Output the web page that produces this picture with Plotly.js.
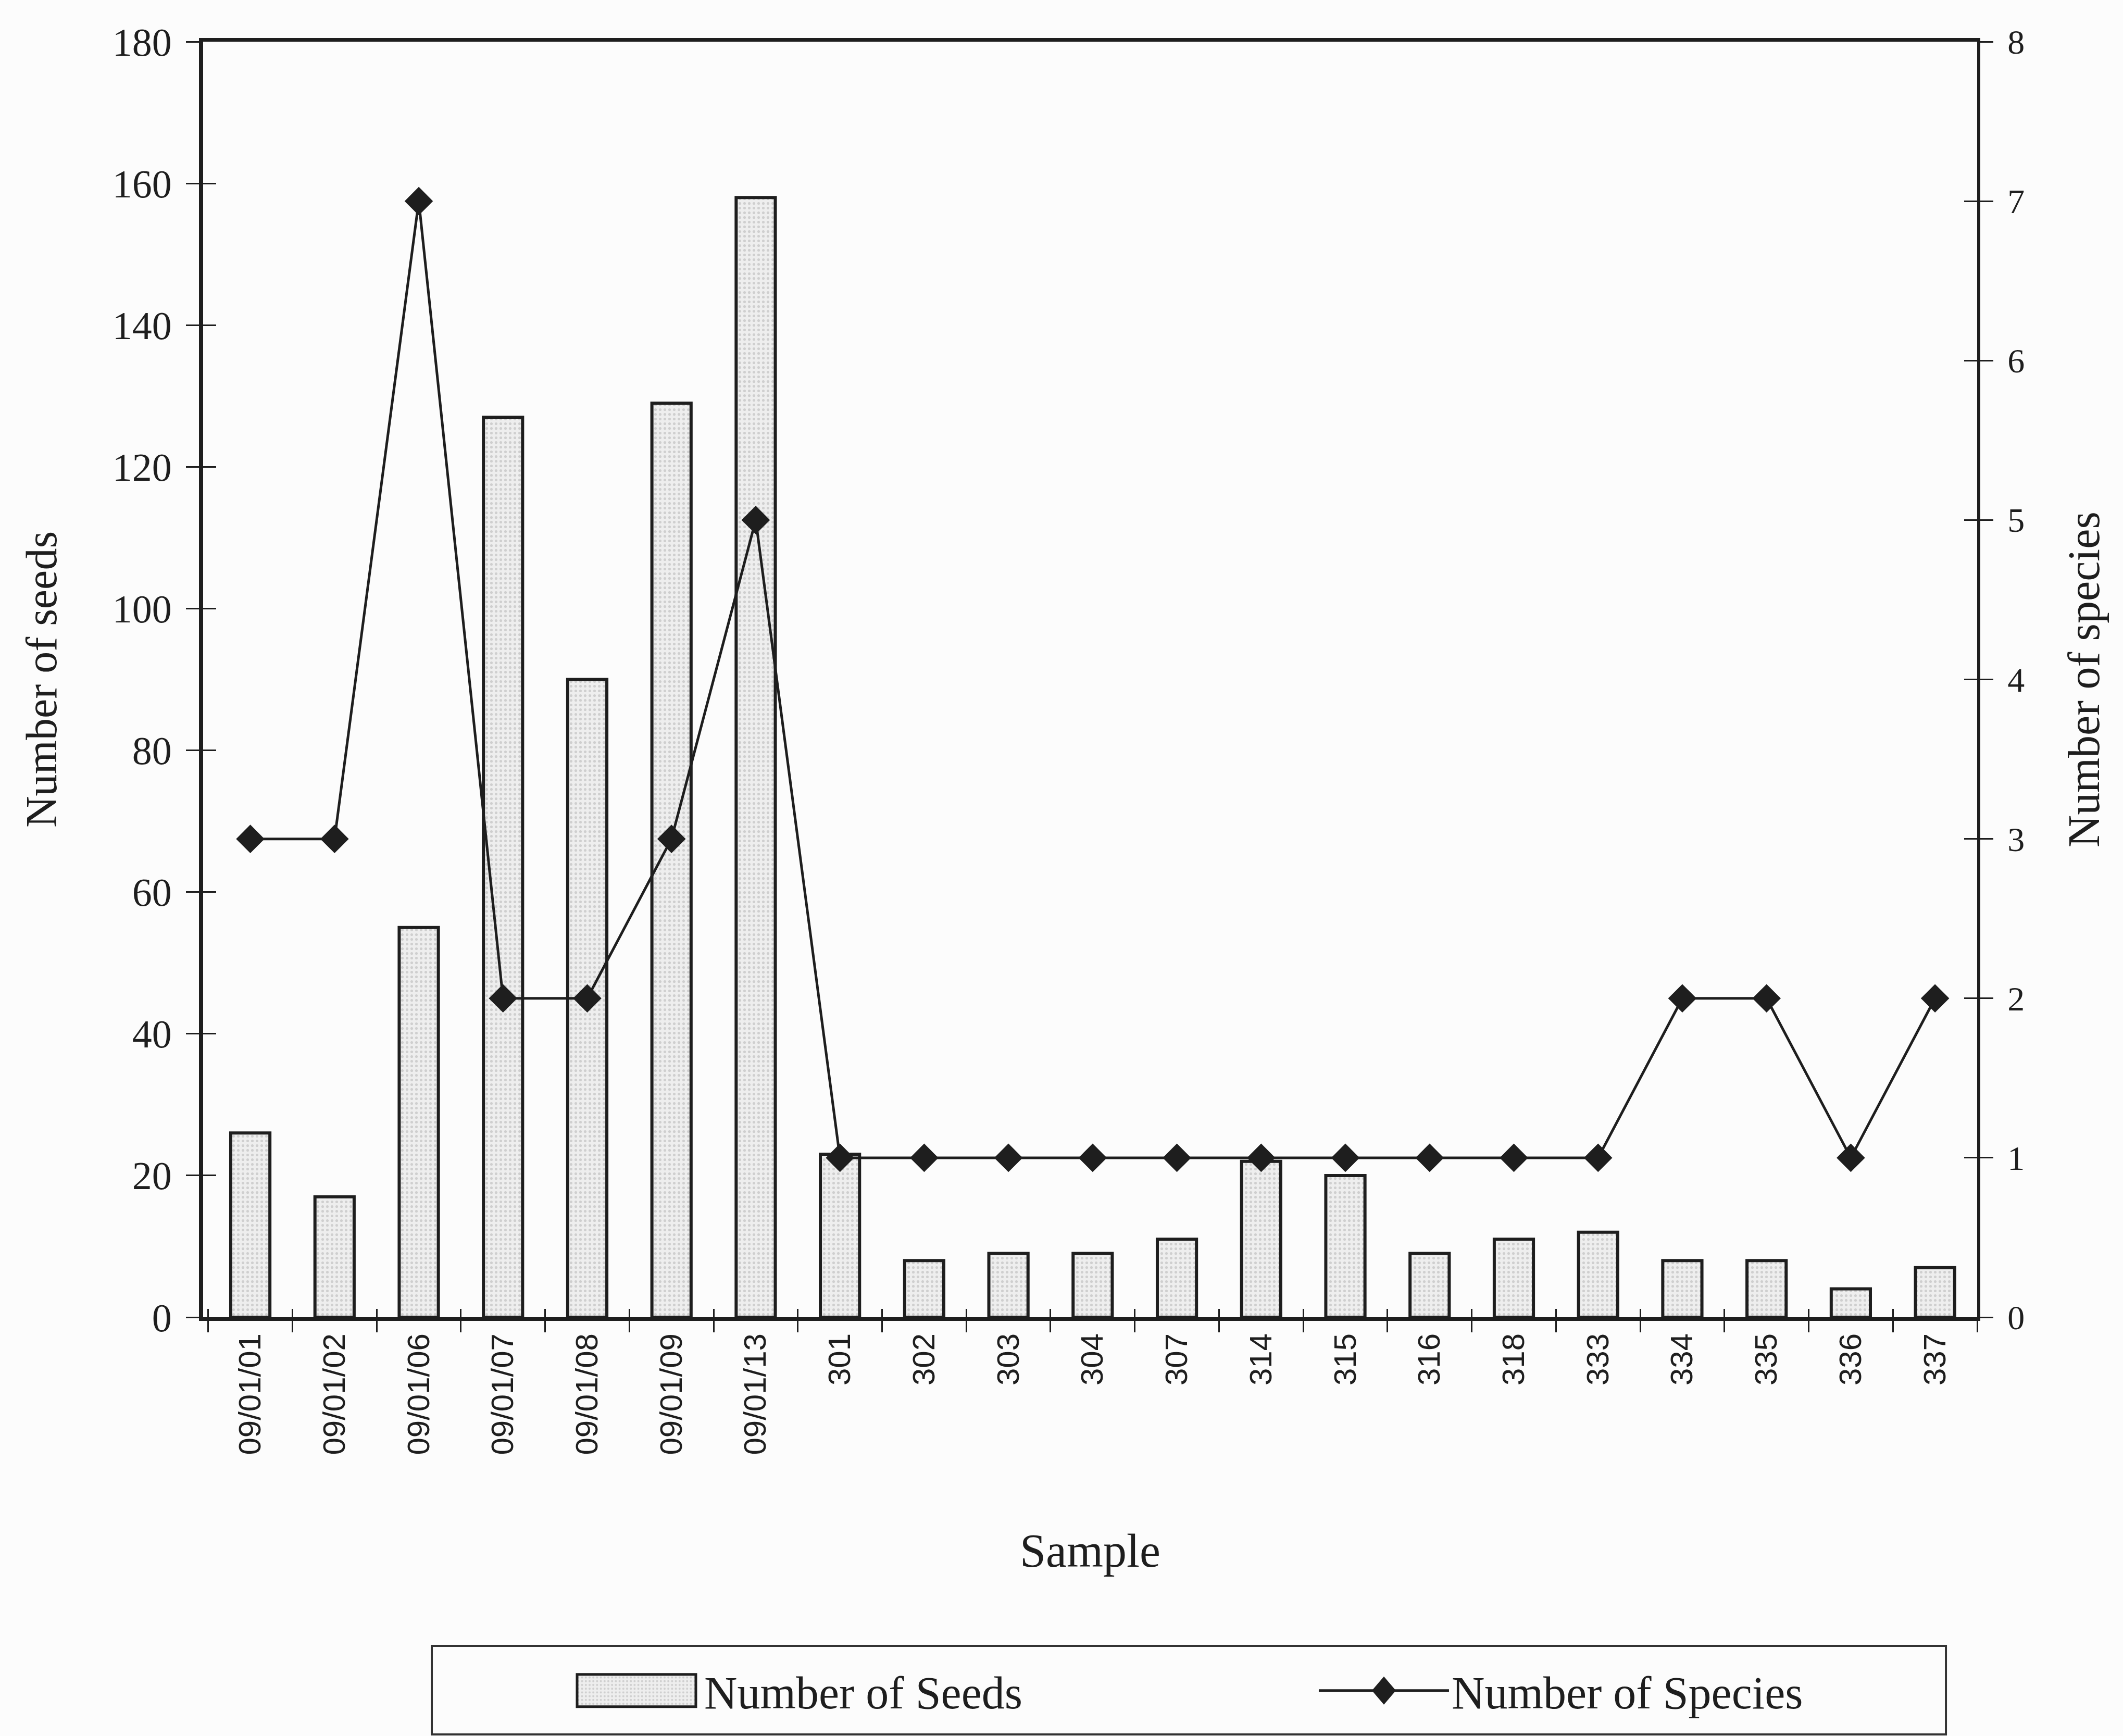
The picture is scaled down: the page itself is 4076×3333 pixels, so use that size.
<!DOCTYPE html>
<html>
<head>
<meta charset="utf-8">
<script src="https://cdn.plot.ly/plotly-3.0.1.min.js"></script>
<style>
  html, body { margin: 0; padding: 0; background: #fcfcfc; }
  #chart { width: 4076px; height: 3333px; }
</style>
</head>
<body>
<div id="chart"></div>
<script>
// Sample identifiers along the x axis
const samples = ['09/01/01', '09/01/02', '09/01/06', '09/01/07', '09/01/08', '09/01/09', '09/01/13',
                 '301', '302', '303', '304', '307', '314', '315', '316', '318', '333', '334', '335', '336', '337'];

// Number of seeds per sample (left axis, bars)
const seeds = [26, 17, 55, 127, 90, 129, 158, 23, 8, 9, 9, 11, 22, 20, 9, 11, 12, 8, 8, 4, 7];

// Number of species per sample (right axis, line with diamonds)
const species = [3, 3, 7, 2, 2, 3, 5, 1, 1, 1, 1, 1, 1, 1, 1, 1, 1, 2, 2, 1, 2];

// Tick values for both value axes
const seedTicks = [0, 20, 40, 60, 80, 100, 120, 140, 160, 180];
const speciesTicks = [0, 1, 2, 3, 4, 5, 6, 7, 8];

const ink = '#1e1e1e';
const serif = 'Liberation Serif, Times New Roman, serif';
const sans = 'Liberation Sans, Arial, sans-serif';
const xRange = [-0.56, samples.length - 0.5];

const traces = [
  {
    type: 'bar',
    name: 'Number of Seeds',
    x: samples,
    y: seeds,
    xaxis: 'x',
    yaxis: 'y',
    marker: {
      color: '#ebebeb',
      line: { color: ink, width: 6 },
      pattern: { shape: '.', bgcolor: '#eeeeee', fgcolor: '#cfcfcf', size: 9, solidity: 0.25 }
    },
    hoverinfo: 'x+y'
  },
  {
    type: 'scatter',
    mode: 'lines+markers',
    name: 'Number of Species',
    x: samples,
    y: species,
    xaxis: 'x',
    yaxis: 'y2',
    line: { color: ink, width: 5 },
    marker: { symbol: 'diamond', size: 42, color: ink },
    hoverinfo: 'x+y'
  },
  // Mark-free traces that carry the inner halves of the crossing tick marks
  {
    type: 'scatter', mode: 'none', x: samples, y: seeds,
    xaxis: 'x2', yaxis: 'y3', showlegend: false, hoverinfo: 'skip'
  },
  {
    type: 'scatter', mode: 'none', x: samples, y: species,
    xaxis: 'x2', yaxis: 'y4', showlegend: false, hoverinfo: 'skip'
  }
];

const tickCommon = { tickwidth: 3, tickcolor: ink, showgrid: false, zeroline: false };

const layout = {
  width: 4076,
  height: 3333,
  paper_bgcolor: '#fcfcfc',
  plot_bgcolor: '#fcfcfc',
  margin: { l: 390, r: 280, t: 80, b: 804, pad: 0 },
  bargap: 0.535,
  showlegend: true,
  xaxis: Object.assign({}, tickCommon, {
    type: 'category',
    categoryorder: 'array',
    categoryarray: samples,
    range: xRange,
    autorange: false,
    tickson: 'boundaries',
    ticks: 'outside',
    ticklen: 22,
    tickangle: -90,
    tickfont: { family: sans, size: 60, color: ink },
    showline: true,
    linewidth: 7,
    linecolor: ink,
    mirror: true,
    title: { text: 'Sample', font: { family: serif, size: 90, color: ink }, standoff: 155 }
  }),
  xaxis2: Object.assign({}, tickCommon, {
    type: 'category',
    categoryorder: 'array',
    categoryarray: samples,
    overlaying: 'x',
    side: 'bottom',
    anchor: 'y',
    range: xRange,
    autorange: false,
    tickson: 'boundaries',
    ticks: 'inside',
    ticklen: 16,
    showticklabels: false,
    showline: false
  }),
  yaxis: Object.assign({}, tickCommon, {
    range: [0, 180],
    autorange: false,
    tickmode: 'array',
    tickvals: seedTicks,
    ticktext: seedTicks.map(String),
    ticks: 'outside',
    ticklen: 25,
    ticklabelstandoff: 12,
    tickfont: { family: serif, size: 76, color: ink },
    showline: true,
    linewidth: 8,
    linecolor: ink,
    title: { text: 'Number of seeds', font: { family: serif, size: 84, color: ink }, standoff: 82 }
  }),
  yaxis2: Object.assign({}, tickCommon, {
    overlaying: 'y',
    side: 'right',
    range: [0, 8],
    autorange: false,
    tickmode: 'array',
    tickvals: speciesTicks,
    ticktext: speciesTicks.map(String),
    ticks: 'outside',
    ticklen: 25,
    ticklabelstandoff: 14,
    tickfont: { family: serif, size: 66, color: ink },
    showline: true,
    linewidth: 6,
    linecolor: ink,
    title: { text: 'Number of species', font: { family: serif, size: 86, color: ink }, standoff: 86 }
  }),
  yaxis3: Object.assign({}, tickCommon, {
    overlaying: 'y',
    side: 'left',
    anchor: 'x',
    range: [0, 180],
    autorange: false,
    tickmode: 'array',
    tickvals: seedTicks,
    ticks: 'inside',
    ticklen: 25,
    showticklabels: false,
    showline: false
  }),
  yaxis4: Object.assign({}, tickCommon, {
    overlaying: 'y',
    side: 'right',
    anchor: 'x',
    range: [0, 8],
    autorange: false,
    tickmode: 'array',
    tickvals: speciesTicks,
    ticks: 'inside',
    ticklen: 25,
    showticklabels: false,
    showline: false
  }),
  legend: {
    orientation: 'h',
    x: 0.2061,
    xanchor: 'left',
    y: -0.2928,
    yanchor: 'middle',
    bgcolor: 'rgba(0,0,0,0)',
    borderwidth: 0,
    itemwidth: 250,
    entrywidth: 1170,
    font: { family: serif, size: 88, color: ink }
  },
  shapes: [
    {
      type: 'rect',
      xref: 'paper', yref: 'paper',
      x0: 0.1289, x1: 0.9824, y0: -0.2577, y1: -0.3271,
      line: { color: '#333333', width: 4 },
      fillcolor: 'rgba(0,0,0,0)',
      layer: 'below'
    }
  ]
};

// Widen the legend keys so the bar swatch and diamond read at this page size
function enlargeLegendKeys() {
  const gd = document.getElementById('chart');
  gd.querySelectorAll('.legend g.legendpoints path').forEach(function (p) {
    if (p.getAttribute('data-key')) return;
    const d = p.getAttribute('d') || '';
    if (d.indexOf('M6,6H-6V-6H6Z') === 0) {
      p.setAttribute('d', 'M114,31H-114V-31H114Z');
      p.setAttribute('data-key', 'bar');
    } else if (p.classList.contains('scatterpts')) {
      p.setAttribute('d', 'M23,0L0,27L-23,0L0,-27Z');
      p.setAttribute('data-key', 'point');
    }
  });
}

const chart = document.getElementById('chart');
Plotly.newPlot(chart, traces, layout, { staticPlot: true, displayModeBar: false })
  .then(function () {
    enlargeLegendKeys();
    chart.on('plotly_afterplot', enlargeLegendKeys);
    setTimeout(enlargeLegendKeys, 50);
    setTimeout(enlargeLegendKeys, 300);
  });
</script>
</body>
</html>
